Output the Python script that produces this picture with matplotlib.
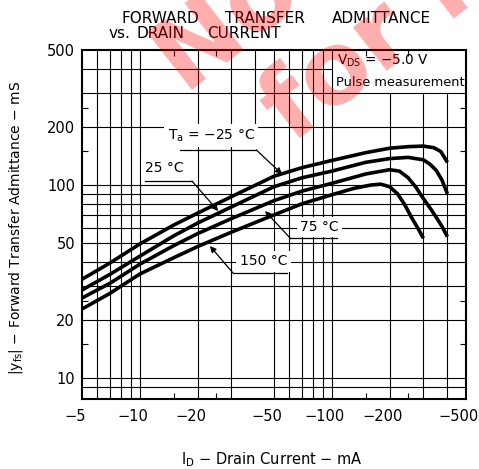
"""Forward transfer admittance vs. drain current (datasheet style chart)."""
import matplotlib

matplotlib.use("Agg")
import matplotlib.pyplot as plt  # noqa: E402
from matplotlib.transforms import ScaledTranslation  # noqa: E402

# --- data (|ID| in mA, |yfs| in mS) ---
ta_m25_id = [5, 7, 10, 15, 20, 30, 50, 70, 100, 150, 200, 250, 300, 340, 370, 400]
ta_m25_yfs = [32.5, 39.5, 49.5, 62, 71.5, 87, 111, 123, 134, 147, 155, 158, 159, 156, 149, 131]

ta_25_id = [5, 7, 10, 15, 20, 30, 50, 70, 100, 150, 200, 250, 300, 325, 350, 375, 400]
ta_25_yfs = [28.6, 34.5, 42.8, 54.5, 63.5, 77, 98, 109, 118, 131, 137, 139, 135, 128, 119, 106, 90]

ta_75_id = [5, 7, 10, 15, 20, 30, 50, 70, 100, 150, 200, 225, 250, 275, 300, 325, 350, 375, 400]
ta_75_yfs = [26, 31, 38.9, 48.5, 56, 67, 83, 93, 102, 114, 120, 118, 109, 97, 85, 76, 68, 61, 54]

ta_150_id = [5, 7, 10, 15, 20, 30, 50, 70, 100, 130, 160, 180, 200, 220, 240, 260, 280, 300]
ta_150_yfs = [22.8, 27.5, 34.6, 42, 48, 57, 70, 80, 89, 96, 100, 101, 98, 90, 79, 68, 60, 53]

x_ticks = [5, 10, 20, 50, 100, 200, 500]
x_tick_labels = ["\u22125", "\u221210", "\u221220", "\u221250", "\u2212100", "\u2212200", "\u2212500"]
y_ticks = [10, 20, 50, 100, 200, 500]
y_tick_labels = ["10", "20", "50", "100", "200", "500"]
minor_ticks = [15, 25, 150, 250]

# grid of the printed chart paper
x_grid_full = [6, 7, 8, 9, 10, 20, 30, 50, 60, 70, 80, 90, 100]
x_grid_low = [200, 300, 400]      # stop under the condition box
x_grid_high = [40]                # only above 200 mS
y_grid_full = [9, 10, 20, 30, 40, 50, 60, 70, 80, 90, 100, 200, 300]
y_grid_left = [400]               # stops at the condition box

# title words, spread like the letter-spaced printed heading (centre in px)
title_line1 = [("FORWARD", 160), ("TRANSFER", 265), ("ADMITTANCE", 381)]
title_line2 = [("vs.", 119), ("DRAIN", 161), ("CURRENT", 244)]

X_MIN, X_MAX = 5, 500
Y_MIN, Y_MAX = 7.8, 500
LINE = "black"
W, H = 479, 469

fig = plt.figure(figsize=(W / 100, H / 100), dpi=100)
ax = fig.add_axes([82 / W, 1 - 399 / H, 384 / W, 349 / H])
ax.set_xscale("log")
ax.set_yscale("log")
ax.set_xlim(X_MIN, X_MAX)
ax.set_ylim(Y_MIN, Y_MAX)

# grid
ax.vlines(x_grid_full, Y_MIN, Y_MAX, color=LINE, lw=0.8, zorder=1)
ax.vlines(x_grid_low, Y_MIN, 300, color=LINE, lw=0.8, zorder=1)
ax.vlines(x_grid_high, 200, Y_MAX, color=LINE, lw=0.8, zorder=1)
ax.hlines(y_grid_full, X_MIN, X_MAX, color=LINE, lw=0.8, zorder=1)
ax.hlines(y_grid_left, X_MIN, 100, color=LINE, lw=0.8, zorder=1)

# curves
for xs, ys in [(ta_m25_id, ta_m25_yfs), (ta_25_id, ta_25_yfs),
               (ta_75_id, ta_75_yfs), (ta_150_id, ta_150_yfs)]:
    ax.plot(xs, ys, color=LINE, lw=2.6, solid_capstyle="butt",
            solid_joinstyle="round", zorder=3)

# axes styling
for spine in ax.spines.values():
    spine.set_linewidth(1.5)
    spine.set_zorder(5)
ax.set_xticks(x_ticks)
ax.set_xticklabels(x_tick_labels)
ax.set_yticks(y_ticks)
ax.set_yticklabels(y_tick_labels)
ax.set_xticks(minor_ticks, minor=True)
ax.set_yticks(minor_ticks, minor=True)
ax.xaxis.set_minor_formatter(plt.NullFormatter())
ax.yaxis.set_minor_formatter(plt.NullFormatter())
ax.tick_params(which="major", length=0, labelsize=10.5, colors=LINE)
ax.tick_params(axis="x", which="major", pad=7)
ax.tick_params(axis="y", which="major", pad=5)
ax.tick_params(which="minor", direction="in", length=4, width=0.8,
               top=True, right=True, bottom=True, left=True)
for lbl in ax.get_xticklabels():
    lbl.set_transform(lbl.get_transform() + ScaledTranslation(-7 / 100, 0, fig.dpi_scale_trans))

ax.set_xlabel("I$_\\mathregular{D}$ \u2212 Drain Current \u2212 mA", fontsize=10.5)
ax.xaxis.set_label_coords(0.494, -0.175)
ax.xaxis.label.set_va("center")
ax.set_ylabel("|y$_\\mathregular{fs}$| \u2212 Forward Transfer Admittance \u2212 mS", fontsize=10)
ax.yaxis.set_label_coords(-0.172, 0.49)
ax.yaxis.label.set_va("center")

# title
for word, x in title_line1:
    fig.text(x / W, 1 - 23 / H, word, fontsize=11, ha="center", va="baseline")
for word, x in title_line2:
    fig.text(x / W, 1 - 38 / H, word, fontsize=11, ha="center", va="baseline")

# measurement conditions box (box edges are the 100 mA / 300 mS grid lines)
ax.text(0.664, 0.97, "V$_\\mathregular{DS}$ = \u22125.0 V", transform=ax.transAxes,
        fontsize=9.8, va="center", ha="left")
ax.text(0.662, 0.907, "Pulse measurement", transform=ax.transAxes,
        fontsize=9.3, va="center", ha="left")

# curve labels with leaders
white = dict(boxstyle="square,pad=0.25", fc="white", ec="none")
arrow = dict(arrowstyle="-|>", color=LINE, lw=0.9, mutation_scale=9, shrinkA=0, shrinkB=0)

ax.text(14.0, 180, "T$_\\mathregular{a}$ = \u221225 \u00b0C", fontsize=10, va="center", bbox=white, zorder=4)
ax.plot([16.2, 40.4], [152, 152], color=LINE, lw=0.9, zorder=4)
ax.annotate("", xy=(55, 114), xytext=(40.4, 152), arrowprops=arrow, zorder=4)

ax.text(10.6, 122.5, "25 \u00b0C", fontsize=10, va="center", bbox=white, zorder=4)
ax.plot([10.6, 18.7], [104.8, 104.8], color=LINE, lw=0.9, zorder=4)
ax.annotate("", xy=(25.6, 73.3), xytext=(18.7, 104.8), arrowprops=arrow, zorder=4)

ax.text(68.3, 60.6, "75 \u00b0C", fontsize=10, va="center", bbox=white, zorder=4)
ax.plot([60.6, 106.8], [53.2, 53.2], color=LINE, lw=0.9, zorder=4)
ax.annotate("", xy=(44.9, 73.3), xytext=(60.6, 53.2), arrowprops=arrow, zorder=4)

ax.text(33.2, 40.4, "150 \u00b0C", fontsize=10, va="center", bbox=white, zorder=4)
ax.plot([30.6, 58.6], [35.0, 35.0], color=LINE, lw=0.9, zorder=4)
ax.annotate("", xy=(23.2, 48.3), xytext=(30.6, 35.0), arrowprops=arrow, zorder=4)

# red watermark stamped over the page
stamp = dict(fontsize=72, fontweight="bold", color="red", alpha=0.32,
             rotation=38, rotation_mode="anchor", ha="left", va="baseline", zorder=10)
fig.text(185 / W, 1 - 95 / H, "Not Recommended", **stamp)
fig.text(292 / W, 1 - 145 / H, "for New Design", **stamp)

fig.savefig("out.png", dpi=100)
plt.close(fig)
